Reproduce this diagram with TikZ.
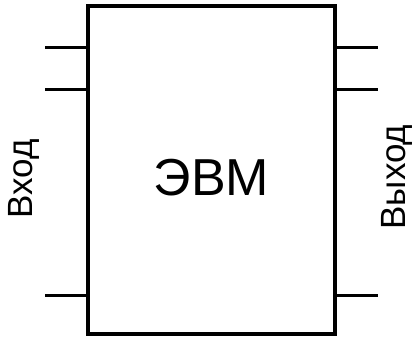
\documentclass[tikz,border=0pt]{standalone}
\usepackage{fontspec}
\setmainfont{Liberation Sans}
\usetikzlibrary{positioning}

\tikzset{
  pin line/.style={line width=3pt},
  side label/.style={rotate=90, font=\fontsize{35}{40}\selectfont}
}

\begin{document}
\begin{tikzpicture}[x=1pt, y=-1pt]
  \useasboundingbox (0,0) rectangle (412,337);
  % the block
  \node[draw, line width=3.2pt, minimum width=247pt, minimum height=328pt, inner sep=0pt] (evm) at (211.5,170) {};
  \node[font=\fontsize{52}{60}\selectfont] (evmtext) at (211.5,178) {ЭВМ};
  % inputs
  \coordinate (in1) at (45,47.5);
  \coordinate (in2) at (45,89);
  \coordinate (in3) at (45,295);
  \draw[pin line] (in1) -- (in1 -| evm.west);
  \draw[pin line] (in2) -- (in2 -| evm.west);
  \draw[pin line] (in3) -- (in3 -| evm.west);
  % outputs
  \coordinate (out1) at (378,47.5);
  \coordinate (out2) at (378,89);
  \coordinate (out3) at (378,295);
  \draw[pin line] (out1 -| evm.east) -- (out1);
  \draw[pin line] (out2 -| evm.east) -- (out2);
  \draw[pin line] (out3 -| evm.east) -- (out3);
  % labels
  \node[side label] (vhod) at (24,179) {Вход};
  \node[side label] (vyhod) at (397,177) {Выход};
\end{tikzpicture}
\end{document}
